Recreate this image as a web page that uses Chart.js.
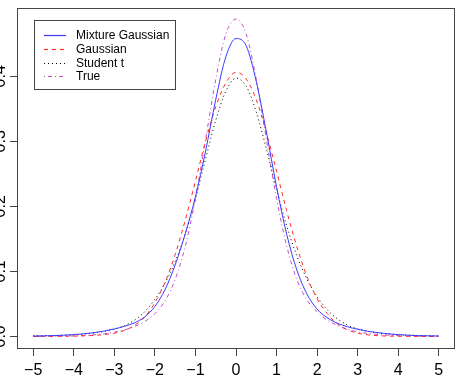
<!DOCTYPE html>
<html>
<head>
<meta charset="utf-8">
<script src="https://cdn.jsdelivr.net/npm/chart.js@4/dist/chart.umd.min.js"></script>
<style>
  html, body { margin: 0; padding: 0; background: #fff; }
  #wrap { width: 460px; height: 391px; }
</style>
</head>
<body>
<div id="wrap"><canvas id="grafico"></canvas></div>
<script>
const xTicks = [-5, -4, -3, -2, -1, 0, 1, 2, 3, 4, 5];
const yTicks = [0, 0.1, 0.2, 0.3, 0.4];

const xs = [-5, -4.75, -4.5, -4.25, -4, -3.75, -3.5, -3.25, -3, -2.75, -2.5, -2.25, -2, -1.75, -1.5, -1.25, -1, -0.75, -0.5, -0.25,
  0, 0.25, 0.5, 0.75, 1, 1.25, 1.5, 1.75, 2, 2.25, 2.5, 2.75, 3, 3.25, 3.5, 3.75, 4, 4.25, 4.5, 4.75, 5];

const mixtureGaussian = [0.0005, 0.0008, 0.0012, 0.0018, 0.0027, 0.0040, 0.0058, 0.0082, 0.0115, 0.0155, 0.0210, 0.0300, 0.0460, 0.0720, 0.1100, 0.1580, 0.2150, 0.2850, 0.3640, 0.4300,
  0.4580, 0.4470, 0.3920, 0.3140, 0.2300, 0.1570, 0.1020, 0.0650, 0.0420, 0.0286, 0.0203, 0.0148, 0.0109, 0.0079, 0.0057, 0.0040, 0.0027, 0.0018, 0.0012, 0.0008, 0.0005];

const gaussian = [0.0000, 0.0000, 0.0001, 0.0002, 0.0004, 0.0008, 0.0015, 0.0028, 0.0050, 0.0092, 0.0170, 0.0300, 0.0520, 0.0830, 0.1260, 0.1790, 0.2390, 0.3000, 0.3530, 0.3900,
  0.4060, 0.3960, 0.3640, 0.3130, 0.2540, 0.1930, 0.1380, 0.0920, 0.0580, 0.0350, 0.0190, 0.0100, 0.0050, 0.0024, 0.0011, 0.0005, 0.0002, 0.0001, 0.0000, 0.0000, 0.0000];

const studentT = [0.0008, 0.0011, 0.0014, 0.0019, 0.0026, 0.0036, 0.0052, 0.0076, 0.0110, 0.0165, 0.0250, 0.0380, 0.0570, 0.0820, 0.1150, 0.1580, 0.2120, 0.2730, 0.3320, 0.3770,
  0.3970, 0.3850, 0.3450, 0.2880, 0.2260, 0.1700, 0.1240, 0.0880, 0.0610, 0.0410, 0.0270, 0.0175, 0.0115, 0.0078, 0.0053, 0.0037, 0.0026, 0.0019, 0.0014, 0.0010, 0.0008];

const trueDensity = [0.0001, 0.0001, 0.0002, 0.0004, 0.0008, 0.0014, 0.0025, 0.0040, 0.0064, 0.0100, 0.0152, 0.0229, 0.0349, 0.0547, 0.0875, 0.1390, 0.2120, 0.3030, 0.3950, 0.4650,
  0.4880, 0.4650, 0.3950, 0.3030, 0.2120, 0.1390, 0.0875, 0.0560, 0.0380, 0.0250, 0.0170, 0.0110, 0.0070, 0.0045, 0.0030, 0.0018, 0.0010, 0.0006, 0.0003, 0.0002, 0.0001];

const nombres = ["Mixture Gaussian", "Gaussian", "Student t", "True"];
const colores = ["#3a3aff", "#ff2a2a", "#000000", "#c050c4"];
const trazos = [[], [4, 4], [1, 3], [1, 3, 4, 3]];

const FONT = "'Liberation Sans', Arial, Helvetica, sans-serif";
const AXIS = "#444";

function serie(i, ys) {
  return {
    label: nombres[i],
    data: xs.map((x, k) => ({ x, y: ys[k] })),
    borderColor: colores[i],
    borderWidth: 1,
    borderDash: trazos[i],
    pointRadius: 0,
    fill: false,
    cubicInterpolationMode: "monotone"
  };
}

// box around the plot and the legend in the top left corner, R style
const marco = {
  id: "marco",
  afterDraw(chart) {
    const { ctx, chartArea: a } = chart;
    ctx.save();
    ctx.globalAlpha = 1;
    ctx.lineWidth = 1;
    ctx.setLineDash([]);
    ctx.strokeStyle = AXIS;
    ctx.strokeRect(a.left + 0.5, a.top + 0.5, a.right - a.left - 1, a.bottom - a.top - 1);
    ctx.strokeRect(34.5, 20.5, 141, 69);

    ctx.font = "12px " + FONT;
    ctx.textBaseline = "middle";
    ctx.textAlign = "left";
    for (let i = 0; i < nombres.length; i++) {
      const y = Math.round(35 + i * 13.8) + 0.5;
      ctx.setLineDash(trazos[i]);
      ctx.strokeStyle = colores[i];
      ctx.lineWidth = 1.2;
      ctx.beginPath();
      ctx.moveTo(44, y);
      ctx.lineTo(66, y);
      ctx.stroke();
      ctx.fillStyle = "#000";
      ctx.fillText(nombres[i], 76, y);
    }
    ctx.restore();
  }
};

new Chart(document.getElementById("grafico").getContext("2d"), {
  type: "line",
  data: {
    datasets: [
      serie(0, mixtureGaussian),
      serie(1, gaussian),
      serie(2, studentT),
      serie(3, trueDensity)
    ]
  },
  options: {
    responsive: true,
    maintainAspectRatio: false,
    animation: false,
    layout: { padding: { top: 8, right: 5, left: 0, bottom: 0 } },
    plugins: { legend: { display: false }, tooltip: { enabled: false } },
    scales: {
      x: {
        type: "linear",
        min: -5.4,
        max: 5.4,
        afterBuildTicks: s => { s.ticks = xTicks.map(v => ({ value: v })); },
        afterFit: s => { s.height = 42; },
        border: { display: false },
        grid: { drawOnChartArea: false, drawTicks: true, tickLength: 7, color: AXIS },
        ticks: {
          color: "#000",
          font: { family: FONT, size: 16 },
          padding: 5,
          maxRotation: 0,
          autoSkip: false,
          callback: v => (v < 0 ? "\u2212" + Math.abs(v) : String(v))
        }
      },
      y: {
        min: -0.0194,
        max: 0.505,
        afterBuildTicks: s => { s.ticks = yTicks.map(v => ({ value: v })); },
        afterFit: s => { s.width = 17; },
        border: { display: false },
        grid: { drawOnChartArea: false, drawTicks: true, tickLength: 7, color: AXIS },
        ticks: {
          color: "#000",
          font: { family: FONT, size: 16 },
          minRotation: 90,
          maxRotation: 90,
          crossAlign: "center",
          padding: -1.6,
          autoSkip: false,
          callback: v => v.toFixed(1)
        }
      }
    }
  },
  plugins: [marco]
});
</script>
</body>
</html>
